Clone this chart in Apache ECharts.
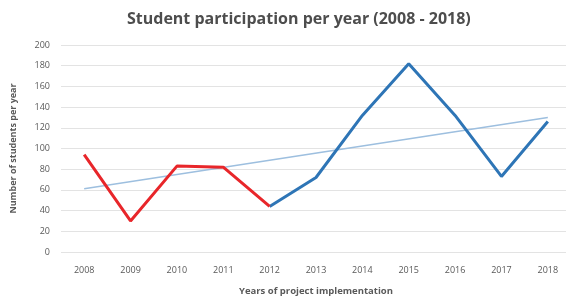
<!DOCTYPE html>
<html>
<head>
<meta charset="utf-8">
<script src="https://cdn.jsdelivr.net/npm/echarts@6/dist/echarts.min.js"></script>
<style>
  html, body { margin: 0; padding: 0; background: #fff; }
  #chart { width: 566px; height: 300px; }
</style>
</head>
<body>
<div id="chart"></div>
<script>
// data
const years = ['2008', '2009', '2010', '2011', '2012', '2013', '2014', '2015', '2016', '2017', '2018'];
const participation = [94, 30, 83, 82, 44, 72, 132, 182, 132, 73, 126];
// linear trend endpoints (2008, 2018)
const trendEnds = [61, 130];
const splitIndex = 4; // red part runs 2008-2012, blue from 2012 on

const yTicks = { min: 0, max: 200, interval: 20 };

const font = '"Open Sans", "Liberation Sans", sans-serif';
const textColor = '#595959';

const chart = echarts.init(document.getElementById('chart'));

const option = {
  animation: false,
  title: {
    text: 'Student participation per year (2008 - 2018)',
    left: 122,
    top: 6,
    textStyle: { fontFamily: font, fontSize: 16, fontWeight: 'bold', color: '#4d4d4d' },
  },
  grid: {
    left: 61,
    width: 510,
    top: 45,
    bottom: 48,
    outerBoundsMode: 'none',
  },
  xAxis: {
    type: 'category',
    data: years,
    boundaryGap: true,
    name: 'Years of project implementation',
    nameLocation: 'middle',
    nameGap: 34,
    nameTextStyle: { fontFamily: font, fontSize: 9.5, fontWeight: 'bold', color: textColor },
    axisLine: { show: false },
    axisTick: { show: false },
    axisLabel: { fontFamily: font, fontSize: 9, color: textColor, margin: 14 },
  },
  yAxis: {
    type: 'value',
    min: yTicks.min,
    max: yTicks.max,
    interval: yTicks.interval,
    name: 'Number of students per year',
    nameLocation: 'middle',
    nameGap: 43,
    nameTextStyle: { fontFamily: font, fontSize: 9, fontWeight: 'bold', color: textColor },
    axisLine: { show: false },
    axisTick: { show: false },
    axisLabel: { fontFamily: font, fontSize: 9, color: textColor, margin: 11 },
    splitLine: { lineStyle: { color: '#e3e3e3', width: 1 } },
  },
  series: [
    {
      name: 'trend',
      type: 'line',
      data: years.map((y, i) => i === 0 ? trendEnds[0] : (i === years.length - 1 ? trendEnds[1] : null)),
      connectNulls: true,
      symbol: 'none',
      lineStyle: { color: '#9dbfdf', width: 1.5 },
      z: 1,
    },
    {
      name: 'early',
      type: 'line',
      data: participation.map((v, i) => i <= splitIndex ? v : null),
      symbol: 'none',
      lineStyle: { color: '#e8262a', width: 3 },
      z: 3,
    },
    {
      name: 'late',
      type: 'line',
      data: participation.map((v, i) => i >= splitIndex ? v : null),
      symbol: 'none',
      lineStyle: { color: '#2e75b6', width: 3 },
      z: 2,
    },
  ],
};

chart.setOption(option);
</script>
</body>
</html>
